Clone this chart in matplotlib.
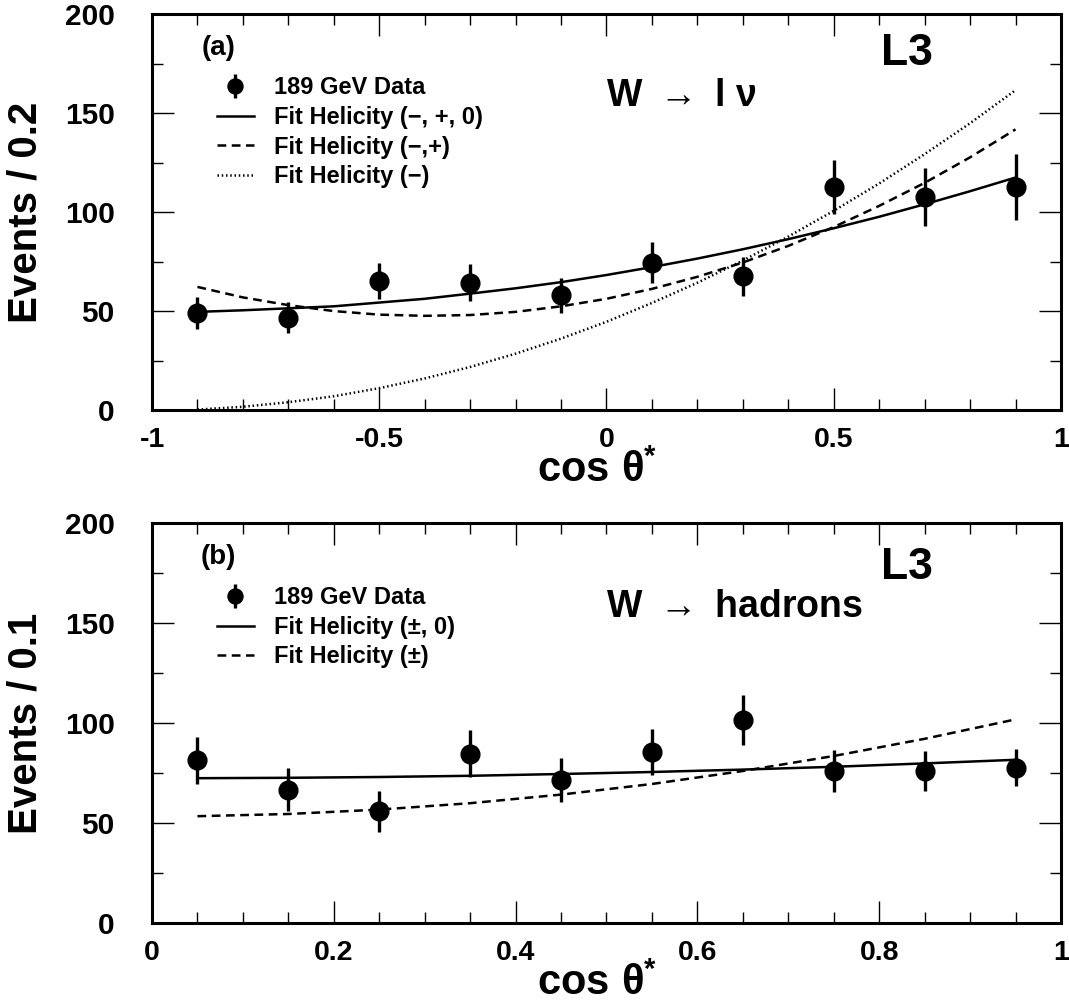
import numpy as np
import matplotlib
matplotlib.use("Agg")
import matplotlib.pyplot as plt
from matplotlib.ticker import MultipleLocator

plt.rcParams['font.family'] = ['Liberation Sans', 'DejaVu Sans']
plt.rcParams['font.weight'] = 'bold'
plt.rcParams['axes.labelweight'] = 'bold'
plt.rcParams['mathtext.fontset'] = 'custom'
plt.rcParams['mathtext.rm'] = 'Liberation Sans'
plt.rcParams['mathtext.bf'] = 'Liberation Sans:bold'
plt.rcParams['mathtext.it'] = 'Liberation Sans:italic'

# (a) W -> l nu, 189 GeV
a_x = [-0.9, -0.7, -0.5, -0.3, -0.1, 0.1, 0.3, 0.5, 0.7, 0.9]
a_y = [49.2, 46.8, 65.3, 64.4, 58.1, 74.5, 67.7, 112.9, 107.7, 112.9]
a_err = [8.2, 7.8, 9.3, 9.3, 8.9, 10.4, 9.8, 13.7, 14.5, 16.6]

a_fx = [-0.9, -0.8, -0.7, -0.6, -0.5, -0.4, -0.3, -0.2, -0.1, 0.0,
        0.1, 0.2, 0.3, 0.4, 0.5, 0.6, 0.7, 0.8, 0.9]
a_fit3 = [49.7, 50.5, 51.5, 52.5, 54.4, 56.3, 58.9, 61.6, 64.7, 68.3,
          72.3, 76.6, 81.3, 86.4, 91.9, 97.7, 104.0, 110.6, 117.5]
a_fit2 = [62.3, 57.0, 53.1, 50.1, 48.3, 47.7, 48.1, 49.7, 52.5, 56.3,
          61.3, 67.4, 74.6, 83.0, 92.5, 103.2, 114.8, 127.7, 141.8]
a_fit1 = [0.4, 1.8, 4.1, 7.1, 11.2, 16.1, 21.9, 28.6, 36.2, 44.7,
          54.2, 64.4, 75.6, 87.7, 100.7, 114.5, 129.3, 144.9, 161.6]

# (b) W -> hadrons
b_x = [0.05, 0.15, 0.25, 0.35, 0.45, 0.55, 0.65, 0.75, 0.85, 0.95]
b_y = [81.4, 66.6, 55.8, 84.7, 71.7, 85.5, 101.4, 76.0, 76.0, 77.7]
b_err = [11.7, 10.8, 10.1, 11.7, 11.0, 11.7, 12.5, 10.7, 10.2, 9.4]
b_fit2 = [72.4, 72.6, 73.0, 73.6, 74.5, 75.5, 76.7, 78.1, 79.8, 81.6]
b_fit1 = [53.4, 54.5, 56.7, 59.9, 64.2, 69.5, 76.0, 83.5, 92.1, 101.8]

dash = (0, (3.5, 2.2))
dot = (0, (0.6, 1.1))

fig = plt.figure(figsize=(10.69, 10.05), dpi=100)
ax1 = fig.add_axes([0.1422, 0.5917, 0.8503, 0.3943])
ax2 = fig.add_axes([0.1422, 0.0816, 0.8503, 0.398])


def style(ax, xlim, xmaj, xmin, ylabel):
    ax.set_xlim(*xlim)
    ax.set_ylim(0, 200)
    ax.xaxis.set_major_locator(MultipleLocator(xmaj))
    ax.xaxis.set_minor_locator(MultipleLocator(xmin))
    ax.yaxis.set_major_locator(MultipleLocator(50))
    ax.yaxis.set_minor_locator(MultipleLocator(25))
    ax.tick_params(which='both', direction='in', top=True, right=True, width=1.0)
    ax.tick_params(which='major', length=16)
    ax.tick_params(which='minor', length=8)
    ax.tick_params(axis='y', labelsize=21.5, pad=27)
    ax.tick_params(axis='x', labelsize=20.5, pad=12)
    for s in ax.spines.values():
        s.set_linewidth(2.2)
    ax.set_ylabel(ylabel, fontsize=29)
    ax.yaxis.set_label_coords(-0.118, 0.5)
    ax.set_xlabel(r'$\mathbf{cos}\ \mathrm{\theta}^{\mathbf{*}}$', fontsize=30)
    ax.xaxis.set_label_coords(0.49, -0.102)
    ax.xaxis.get_label().set_va('top')


style(ax1, (-1, 1), 0.5, 0.1, 'Events / 0.2')
style(ax2, (0, 1), 0.2, 0.05, 'Events / 0.1')
ax1.set_xticks([-1, -0.5, 0, 0.5, 1])
ax1.set_xticklabels(['-1', '-0.5', '0', '0.5', '1'])
ax2.set_xticks([0, 0.2, 0.4, 0.6, 0.8, 1])
ax2.set_xticklabels(['0', '0.2', '0.4', '0.6', '0.8', '1'])

leg_kw = dict(loc='upper left', frameon=False, fontsize=17, handlelength=1.6,
              handletextpad=0.85, labelspacing=0.28, borderpad=0, borderaxespad=0,
              markerscale=0.8)

h_data = ax1.errorbar(a_x, a_y, yerr=a_err, fmt='o', color='black', ms=13.5,
                      elinewidth=2.4, capsize=0, label='189 GeV Data', zorder=3)
h3, = ax1.plot(a_fx, a_fit3, color='black', lw=1.8, label='Fit Helicity (\u2212, +, 0)')
h2, = ax1.plot(a_fx, a_fit2, color='black', lw=1.8, ls=dash, label='Fit Helicity (\u2212,+)')
h1, = ax1.plot(a_fx, a_fit1, color='black', lw=1.8, ls=dot, label='Fit Helicity (\u2212)')
ax1.legend(handles=[h_data, h3, h2, h1], bbox_to_anchor=(0.071, 0.843), **leg_kw)

h_data2 = ax2.errorbar(b_x, b_y, yerr=b_err, fmt='o', color='black', ms=13.5,
                       elinewidth=2.4, capsize=0, label='189 GeV Data', zorder=3)
g2, = ax2.plot(b_x, b_fit2, color='black', lw=1.8, label='Fit Helicity (\u00b1, 0)')
g1, = ax2.plot(b_x, b_fit1, color='black', lw=1.8, ls=dash, label='Fit Helicity (\u00b1)')
ax2.legend(handles=[h_data2, g2, g1], bbox_to_anchor=(0.071, 0.842), **leg_kw)

ax1.text(0.073, 0.914, '(a)', transform=ax1.transAxes, fontsize=20, ha='center', va='center')
ax2.text(0.073, 0.915, '(b)', transform=ax2.transAxes, fontsize=20, ha='center', va='center')
ax1.text(0.831, 0.90, 'L3', transform=ax1.transAxes, fontsize=32, ha='center', va='center')
ax2.text(0.831, 0.888, 'L3', transform=ax2.transAxes, fontsize=32, ha='center', va='center')
ax1.text(0.50, 0.793, r'$\mathbf{W}\ \rightarrow\ \mathbf{l}\ \mathrm{\nu}$',
         transform=ax1.transAxes, fontsize=27, ha='left', va='center')
ax2.text(0.50, 0.79, r'$\mathbf{W}\ \rightarrow\ \mathbf{hadrons}$',
         transform=ax2.transAxes, fontsize=27, ha='left', va='center')

fig.savefig('out.png', dpi=100)
